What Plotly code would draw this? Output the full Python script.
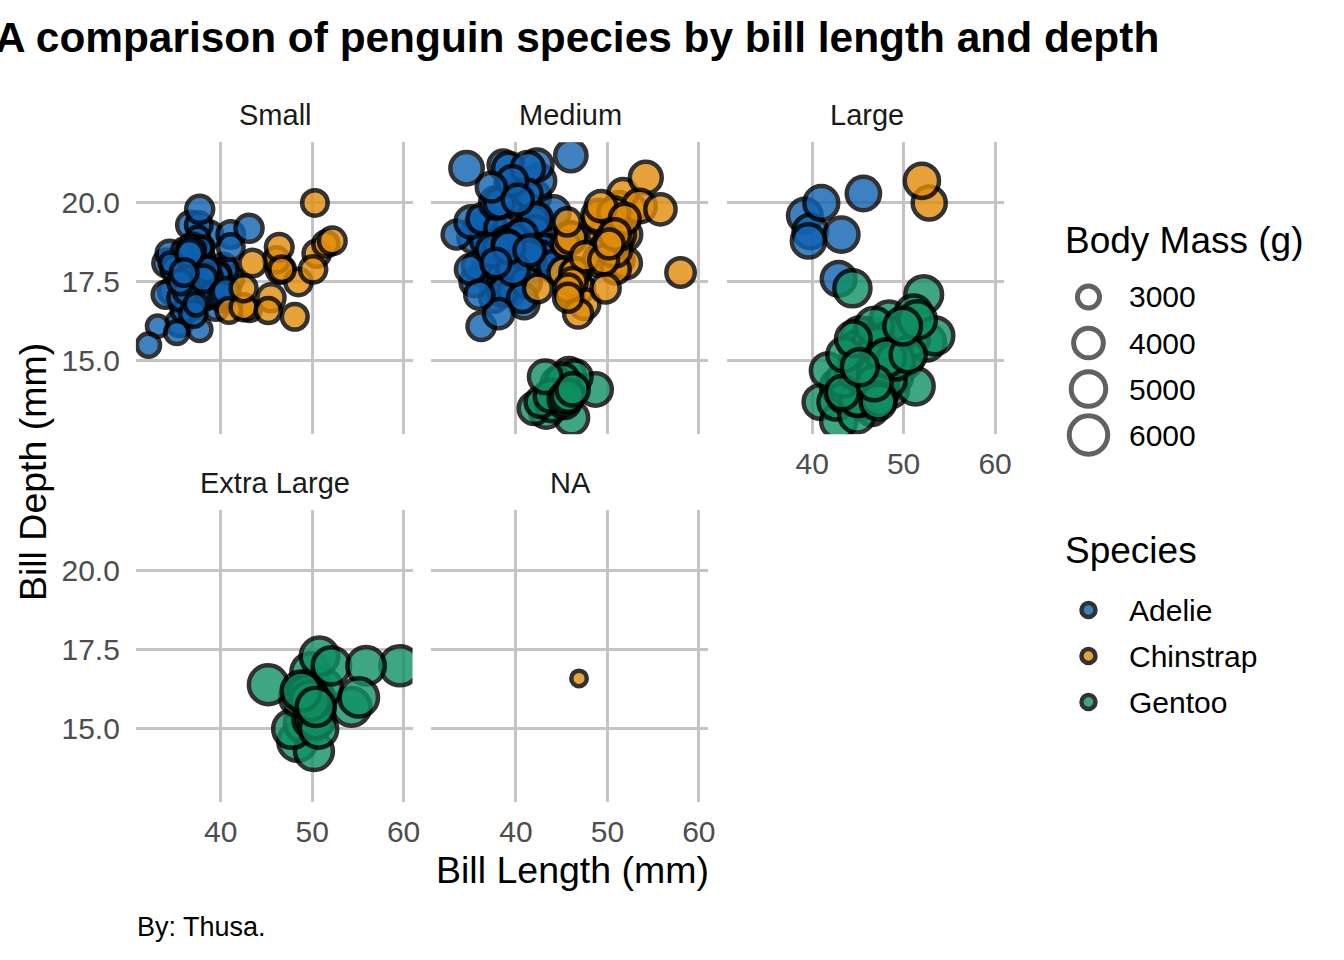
import numpy as np
import plotly.graph_objects as go

# ---- data (palmer penguins) ----
adelie_bill_length = [
    39.1, 39.5, 40.3, 36.7, 39.3, 38.9, 39.2, 34.1, 42.0, 37.8,
    37.8, 41.1, 38.6, 34.6, 36.6, 38.7, 42.5, 34.4, 46.0, 37.8,
    37.7, 35.9, 38.2, 38.8, 35.3, 40.6, 40.5, 37.9, 40.5, 39.5,
    37.2, 39.5, 40.9, 36.4, 39.2, 38.8, 42.2, 37.6, 39.8, 36.5,
    40.8, 36.0, 44.1, 37.0, 39.6, 41.1, 37.5, 36.0, 42.3, 39.6,
    40.1, 35.0, 42.0, 34.5, 41.4, 39.0, 40.6, 36.5, 37.6, 35.7,
    41.3, 37.6, 41.1, 36.4, 41.6, 35.5, 41.1, 35.9, 41.8, 33.5,
    39.7, 39.6, 45.8, 35.5, 42.8, 40.9, 37.2, 36.2, 42.1, 34.6,
    42.9, 36.7, 35.1, 37.3, 41.3, 36.3, 36.9, 38.3, 38.9, 35.7,
    41.1, 34.0, 39.6, 36.2, 40.8, 38.1, 40.3, 33.1, 43.2, 35.0,
    41.0, 37.7, 37.8, 37.9, 39.7, 38.6, 38.2, 38.1, 43.2, 38.1,
    45.6, 39.7, 42.2, 39.6, 42.7, 38.6, 37.3, 35.7, 41.1, 36.2,
    37.7, 40.2, 41.4, 35.2, 40.6, 38.8, 41.5, 39.0, 44.1, 38.5,
    43.1, 36.8, 37.5, 38.1, 41.1, 35.6, 40.2, 37.0, 39.7, 40.2,
    40.6, 32.1, 40.7, 37.3, 39.0, 39.2, 36.6, 36.0, 37.8, 36.0, 41.5,
]
adelie_bill_depth = [
    18.7, 17.4, 18.0, 19.3, 20.6, 17.8, 19.6, 18.1, 20.2, 17.1,
    17.3, 17.6, 21.2, 21.1, 17.8, 19.0, 20.7, 18.4, 21.5, 18.3,
    18.7, 19.2, 18.1, 17.2, 18.9, 18.6, 17.9, 18.6, 18.9, 16.7,
    18.1, 17.8, 18.9, 17.0, 21.1, 20.0, 18.5, 19.3, 19.1, 18.0,
    18.4, 18.5, 19.7, 16.9, 18.8, 19.0, 18.9, 17.9, 21.2, 17.7,
    18.9, 17.9, 19.5, 18.1, 18.6, 17.5, 18.8, 16.6, 19.1, 16.9,
    21.1, 17.0, 18.2, 17.1, 18.0, 16.2, 19.1, 16.6, 19.4, 19.0,
    18.4, 17.2, 18.9, 17.5, 18.5, 16.8, 19.4, 16.1, 19.1, 17.2,
    17.6, 18.8, 19.4, 17.8, 20.3, 19.5, 18.6, 19.2, 18.8, 18.0,
    18.1, 17.1, 18.1, 17.3, 18.9, 18.6, 18.5, 16.1, 18.5, 17.9,
    20.0, 16.0, 20.0, 18.6, 18.9, 17.2, 20.0, 17.0, 19.0, 16.5,
    20.3, 17.7, 19.5, 20.7, 18.3, 17.0, 20.5, 17.0, 18.6, 17.2,
    19.8, 17.0, 18.5, 15.9, 19.0, 17.6, 18.3, 17.1, 18.0, 17.9,
    19.2, 18.5, 18.5, 17.6, 17.5, 17.5, 20.1, 16.5, 17.9, 17.1,
    17.2, 15.5, 17.0, 16.8, 18.7, 18.6, 18.4, 17.8, 18.1, 17.1, 18.5,
]
adelie_body_mass = [
    3750, 3800, 3250, 3450, 3650, 3625, 4675, 3475, 4250, 3300,
    3700, 3200, 3800, 4400, 3700, 3450, 4500, 3325, 4200, 3400,
    3600, 3800, 3950, 3800, 3800, 3550, 3200, 3150, 3950, 3250,
    3900, 3300, 3900, 3325, 4150, 3950, 3550, 3300, 4650, 3150,
    3900, 3100, 4400, 3000, 4600, 3425, 2975, 3450, 4150, 3500,
    4300, 3450, 4050, 2900, 3700, 3550, 3800, 2850, 3750, 3150,
    4400, 3600, 4050, 2850, 3950, 3350, 4100, 3050, 4450, 3600,
    3900, 3550, 4150, 3700, 4250, 3700, 3900, 3550, 4000, 3200,
    4700, 3800, 4200, 3350, 3550, 3800, 3500, 3950, 3600, 3550,
    4300, 3400, 4450, 3300, 4300, 3700, 4350, 2900, 4100, 3725,
    4725, 3075, 4250, 2925, 3550, 3750, 3900, 3175, 4775, 3825,
    4600, 3200, 4275, 3900, 4075, 2900, 3775, 3350, 3325, 3150,
    3500, 3450, 3875, 3050, 4000, 3275, 4300, 3050, 4000, 3325,
    3500, 3500, 4475, 3425, 3900, 3175, 3975, 3400, 4250, 3400,
    3475, 3050, 3725, 3000, 3650, 4250, 3475, 3450, 3750, 3700, 4000,
]

chinstrap_bill_length = [
    46.5, 50.0, 51.3, 45.4, 52.7, 45.2, 46.1, 51.3, 46.0, 51.3,
    46.6, 51.7, 47.0, 52.0, 45.9, 50.5, 50.3, 58.0, 46.4, 49.2,
    42.4, 48.5, 43.2, 50.6, 46.7, 52.0, 50.5, 49.5, 46.4, 52.8,
    40.9, 54.2, 42.5, 51.0, 49.7, 47.5, 47.6, 52.0, 46.9, 53.5,
    49.0, 46.2, 50.9, 45.5, 50.9, 50.8, 50.1, 49.0, 51.5, 49.8,
    48.1, 51.4, 45.7, 50.7, 42.5, 52.2, 45.2, 49.3, 50.2, 45.6,
    51.9, 46.8, 45.7, 55.8, 43.5, 49.6, 50.8, 50.2,
]
chinstrap_bill_depth = [
    17.9, 19.5, 19.2, 18.7, 19.8, 17.8, 18.2, 18.2, 18.9, 19.9,
    17.8, 20.3, 17.3, 18.1, 17.1, 19.6, 20.0, 17.8, 18.6, 18.2,
    17.3, 17.5, 16.6, 19.4, 17.9, 19.0, 18.4, 19.0, 17.8, 20.0,
    16.6, 20.8, 16.7, 18.8, 18.6, 16.8, 18.3, 20.7, 16.6, 19.9,
    19.5, 17.5, 19.1, 17.0, 17.9, 18.5, 17.9, 19.6, 18.7, 17.3,
    16.4, 19.0, 17.3, 19.7, 17.3, 18.8, 16.6, 19.9, 18.8, 19.4,
    19.5, 16.5, 17.0, 19.8, 18.1, 18.2, 19.0, 18.7,
]
chinstrap_body_mass = [
    3500, 3900, 3650, 3525, 3725, 3950, 3250, 3750, 4150, 3700,
    3800, 3775, 3700, 4050, 3575, 4050, 3300, 3700, 3450, 4400,
    3600, 3400, 2900, 3800, 3300, 4150, 3400, 3800, 3700, 4550,
    3200, 4300, 3350, 4100, 3600, 3900, 3850, 4800, 2700, 4500,
    3950, 3650, 3550, 3500, 3675, 4450, 3400, 4300, 3250, 3675,
    3325, 3950, 3600, 4050, 3350, 3450, 3250, 4050, 3800, 3525,
    3950, 3650, 3650, 4000, 3400, 3775, 4100, 3775,
]

gentoo_bill_length = [
    46.1, 50.0, 48.7, 50.0, 47.6, 46.5, 45.4, 46.7, 43.3, 46.8,
    40.9, 49.0, 45.5, 48.4, 45.8, 49.3, 42.0, 49.2, 46.2, 48.7,
    50.2, 45.1, 46.5, 46.3, 42.9, 46.1, 44.5, 47.8, 48.2, 50.0,
    47.3, 42.8, 45.1, 59.6, 49.1, 48.4, 42.6, 44.4, 44.0, 48.7,
    42.7, 49.6, 45.3, 49.6, 50.5, 43.6, 45.5, 50.5, 44.9, 45.2,
    46.6, 48.5, 45.1, 50.1, 46.5, 45.0, 43.8, 45.5, 43.2, 50.4,
    45.3, 46.2, 45.7, 54.3, 45.8, 49.8, 46.2, 49.5, 43.5, 50.7,
    47.7, 46.4, 48.2, 46.5, 46.4, 48.6, 47.5, 51.1, 45.2, 45.2,
    49.1, 52.5, 47.4, 50.0, 44.9, 50.8, 43.4, 51.3, 47.5, 52.1,
    47.5, 52.2, 45.5, 49.5, 44.5, 50.8, 49.4, 46.9, 48.4, 51.1,
    48.5, 55.9, 47.2, 49.1, 47.3, 46.8, 41.7, 53.4, 43.3, 48.1,
    50.5, 49.8, 43.5, 51.5, 46.2, 55.1, 44.5, 48.8, 47.2, 46.8,
    50.4, 45.2, 49.9,
]
gentoo_bill_depth = [
    13.2, 16.3, 14.1, 15.2, 14.5, 13.5, 14.6, 15.3, 13.4, 15.4,
    13.7, 16.1, 13.7, 14.6, 14.6, 15.7, 13.5, 15.2, 14.5, 15.1,
    14.3, 14.5, 14.5, 15.8, 13.1, 15.1, 14.3, 15.0, 14.3, 15.3,
    15.3, 14.2, 14.5, 17.0, 14.8, 16.3, 13.7, 17.3, 13.6, 15.7,
    13.7, 16.0, 13.7, 15.0, 15.9, 13.9, 13.9, 15.9, 13.3, 15.8,
    14.2, 14.1, 14.4, 15.0, 14.4, 15.4, 13.9, 15.0, 14.5, 15.3,
    13.8, 14.9, 13.9, 15.7, 14.2, 16.8, 14.4, 16.2, 14.2, 15.0,
    15.0, 15.6, 15.6, 14.8, 15.0, 16.0, 14.2, 16.3, 13.8, 16.4,
    14.5, 15.6, 14.6, 15.9, 13.8, 17.3, 14.4, 14.2, 14.0, 17.0,
    15.0, 17.1, 14.5, 16.1, 14.7, 15.7, 15.8, 14.6, 14.4, 16.5,
    15.0, 17.0, 15.5, 15.0, 13.8, 16.1, 14.7, 15.8, 14.0, 15.1,
    15.2, 15.9, 15.2, 16.3, 14.1, 16.0, 15.7, 16.2, 13.7, 14.3,
    15.7, 14.8, 16.1,
]
gentoo_body_mass = [
    4500, 5700, 4450, 5700, 5400, 4550, 4800, 5200, 4400, 5150,
    4650, 5550, 4650, 5850, 4200, 5850, 4150, 6300, 4800, 5350,
    5700, 5000, 4400, 5050, 5000, 5100, 4100, 5650, 4600, 5550,
    5250, 4700, 5050, 6050, 5150, 5400, 4950, 5250, 4350, 5350,
    3950, 5700, 4300, 4750, 5550, 4900, 4200, 5400, 5100, 5300,
    4850, 5300, 4400, 5000, 4900, 5050, 4300, 5000, 4450, 5550,
    4200, 5300, 4400, 5650, 4700, 5700, 4650, 5800, 4700, 5550,
    4750, 5000, 5100, 5200, 4700, 5800, 4600, 6000, 4750, 5950,
    4625, 5450, 4725, 5350, 4750, 5600, 4600, 5300, 4875, 5550,
    4950, 5400, 4750, 5650, 4850, 5200, 4925, 4875, 4625, 5250,
    4850, 5600, 4975, 5500, 4725, 5500, 4700, 5500, 4575, 5500,
    5000, 5950, 4650, 5500, 4375, 5850, 4875, 6000, 4925, 4850,
    5750, 5200, 5400,
]

species = ["Adelie", "Chinstrap", "Gentoo"]
panels = ["Small", "Medium", "Large", "Extra Large", "NA"]
mass_breaks = [2700, 3500, 4500, 5500, 6300]
size_breaks = [3000, 4000, 5000, 6000]

data = {
    "Adelie": (adelie_bill_length, adelie_bill_depth, adelie_body_mass),
    "Chinstrap": (chinstrap_bill_length, chinstrap_bill_depth, chinstrap_body_mass),
    "Gentoo": (gentoo_bill_length, gentoo_bill_depth, gentoo_body_mass),
}
fill = {"Adelie": "#0f62b2", "Chinstrap": "#e28d09", "Gentoo": "#0f9063"}

W, H = 1344, 960
FONT = "Liberation Sans, Arial, sans-serif"
LINE_W = 4.5


def px_x(p):
    return p / W


def px_y(p):
    return 1 - p / H


def mass_class(m):
    # cut(body_mass, breaks) -> right closed, lowest value falls out -> NA
    for i in range(len(mass_breaks) - 1):
        if mass_breaks[i] < m <= mass_breaks[i + 1]:
            return panels[i]
    return "NA"


def marker_size(m):
    # area scale: diameter grows with sqrt of rescaled mass
    s = np.clip((np.asarray(m, dtype=float) - 2700) / 3600, 0, 1)
    return 20 + 24.5 * np.sqrt(s) - LINE_W


# panel geometry (px)
col_left = [136.7, 433.7, 731.7]
row_top = [142.3, 510.3]
panel_w, panel_h = 278.3, 292.0
x_range = [30.725, 60.975]
y_range = [12.68, 21.92]

fig = go.Figure()
layout = {}

for k, pname in enumerate(panels):
    r, c = divmod(k, 3)
    ax = "" if k == 0 else str(k + 1)
    x0 = col_left[c]
    y0 = row_top[r]
    layout["xaxis" + ax] = dict(
        domain=[px_x(x0), px_x(x0 + panel_w)], range=x_range, anchor="y" + ax,
        tickvals=[40, 50, 60], showticklabels=(k >= 2), ticks="",
        showgrid=True, gridcolor="#c4c4c4", gridwidth=3, zeroline=False,
        showline=False, tickfont=dict(size=30, color="#4d4d4d", family=FONT),
        ticklabelstandoff=9,
    )
    layout["yaxis" + ax] = dict(
        domain=[px_y(y0 + panel_h), px_y(y0)], range=y_range, anchor="x" + ax,
        tickvals=[15, 17.5, 20], ticktext=["15.0", "17.5", "20.0"],
        showticklabels=(c == 0), ticks="",
        showgrid=True, gridcolor="#c4c4c4", gridwidth=3, zeroline=False,
        showline=False, tickfont=dict(size=30, color="#4d4d4d", family=FONT),
        ticklabelstandoff=15,
    )
    for sp in species:
        bl, bd, bm = data[sp]
        idx = [i for i, m in enumerate(bm) if mass_class(m) == pname]
        if not idx:
            continue
        fig.add_trace(go.Scatter(
            x=[bl[i] for i in idx], y=[bd[i] for i in idx],
            xaxis="x" + ax, yaxis="y" + ax, mode="markers", showlegend=False,
            marker=dict(size=marker_size([bm[i] for i in idx]), color=fill[sp], opacity=0.8,
                        line=dict(color="black", width=LINE_W)),
            hovertext=sp,
        ))

# ---- hand-made legends on hidden axes ----
layout["xaxis6"] = dict(domain=[px_x(1075), px_x(1115)], range=[-1, 1], visible=False, anchor="y6")
layout["yaxis6"] = dict(domain=[px_y(458), px_y(274)], range=[len(size_breaks) - 0.5, -0.5],
                        visible=False, anchor="x6")
layout["yaxis7"] = dict(domain=[px_y(725), px_y(587)], range=[len(species) - 0.5, -0.5],
                        visible=False, anchor="x6")

fig.add_trace(go.Scatter(
    x=[0] * len(size_breaks), y=list(range(len(size_breaks))), xaxis="x6", yaxis="y6",
    mode="markers", showlegend=False, cliponaxis=False, hoverinfo="skip",
    marker=dict(size=marker_size(size_breaks) + LINE_W - 5, color="white",
                line=dict(color="#1f1f1f", width=5)),
))
fig.add_trace(go.Scatter(
    x=[0] * len(species), y=list(range(len(species))), xaxis="x6", yaxis="y7",
    mode="markers", showlegend=False, cliponaxis=False, hoverinfo="skip",
    marker=dict(size=14, color=[fill[s] for s in species], opacity=0.8,
                line=dict(color="black", width=4.5)),
))

annotations = []


def label(text, x, y, size, color="#1a1a1a", xanchor="center", angle=0):
    annotations.append(dict(
        text=text, x=px_x(x), y=px_y(y), xref="paper", yref="paper",
        xanchor=xanchor, yanchor="middle", showarrow=False, textangle=angle,
        font=dict(size=size, color=color, family=FONT),
    ))


label("<b>A comparison of penguin species by bill length and depth</b>", 1168, 37, 42.4,
      color="black", xanchor="right")
for k, pname in enumerate(panels):
    r, c = divmod(k, 3)
    label(pname, col_left[c] + panel_w / 2 + 1, row_top[r] - 27, 29)
label("Bill Length (mm)", col_left[0] + (col_left[2] + panel_w - col_left[0]) / 2 + 3, 870, 37.5,
      color="black")
label("Bill Depth (mm)", 34, row_top[0] + (row_top[1] + panel_h - row_top[0]) / 2, 37.5,
      color="black", angle=-90)
label("By: Thusa.", 136, 927, 27, color="black", xanchor="left")

label("Body Mass (g)", 1069, 240, 37, color="black", xanchor="left")
for i, b in enumerate(size_breaks):
    label(str(b), 1134, 297 + 46 * i, 30, color="black", xanchor="left")
label("Species", 1069, 550, 37, color="black", xanchor="left")
for i, sp in enumerate(species):
    label(sp, 1134, 610 + 46 * i, 30, color="black", xanchor="left")

fig.update_layout(
    width=W, height=H, margin=dict(l=0, r=0, t=0, b=0),
    paper_bgcolor="white", plot_bgcolor="white",
    annotations=annotations, showlegend=False,
    font=dict(family=FONT),
    **layout,
)

# drop the page's default body margin so figure pixels line up with the window
fig.write_html("out.html", config={"displayModeBar": False},
               post_script="document.body.style.margin = '0px';")
